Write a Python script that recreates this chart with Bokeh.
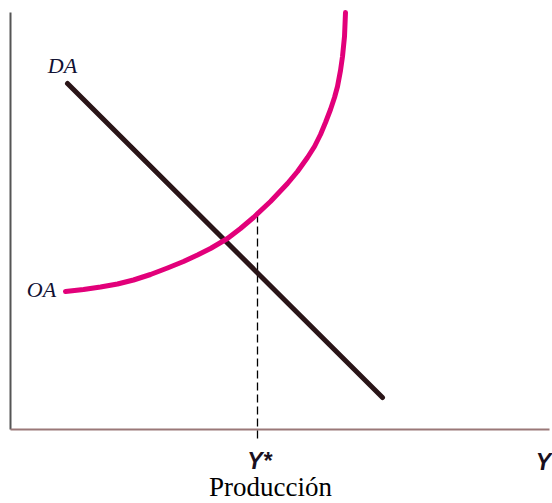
from bokeh.plotting import figure
from bokeh.models import Range1d
from bokeh.core.properties import value
from bokeh.embed import file_html
from bokeh.resources import INLINE

# Aggregate demand (DA) line: endpoints (output, price)
da_x = [11.4, 74.4]
da_y = [86.5, 8.0]

# Aggregate supply (OA) curve
oa_x = [11.0, 14.6, 18.0, 21.4, 24.6, 28.0, 31.4, 34.6, 37.4, 40.0, 43.4, 46.0, 48.6,
        52.0, 55.4, 57.4, 59.4, 60.8, 62.0, 63.0, 64.0, 64.8, 65.4, 66.0, 66.4, 66.8, 67.0]
oa_y = [34.5, 35.0, 35.625, 36.375, 37.375, 38.75, 40.375, 42.0, 43.625, 45.25, 47.75, 50.25, 53.0,
        57.0, 61.5, 64.5, 68.0, 70.75, 73.75, 76.75, 80.0, 83.0, 85.75, 89.75, 93.25, 98.25, 104.25]

# Potential output Y*
y_star = 49.4
y_star_top = 54.0
y_star_bottom = -2.25

# Axis extents
x_axis_end = 107.8
y_axis_end = 104.25

p = figure(width=552, height=503, output_backend="svg", toolbar_location=None,
           x_range=Range1d(-2.0, 108.4), y_range=Range1d(-18.5, 107.25),
           min_border=0, outline_line_color=None)
p.axis.visible = False
p.grid.visible = False
p.background_fill_color = "white"
p.border_fill_color = "white"

# axes lines
p.line([0, 0], [0, y_axis_end], line_color="#555555", line_width=2)
p.line([0, x_axis_end], [0, 0], line_color="#9a7878", line_width=2)

# dashed Y* line
p.line([y_star, y_star], [y_star_bottom, y_star_top], line_color="black",
       line_width=1.3, line_dash="8 4")

# DA
p.line(da_x, da_y, line_color="#2a1518", line_width=5, line_cap="round")

# OA
p.line(oa_x, oa_y, line_color="#e2007a", line_width=5, line_cap="round", line_join="round")

serif = value("Liberation Serif")
sans = value("Liberation Sans")

p.text([10.4], [91.0], text=["DA"], text_font=serif, text_font_style="italic",
       text_font_size="22px", text_align="center", text_baseline="middle", text_color="#111133")
p.text([6.2], [35.0], text=["OA"], text_font=serif, text_font_style="italic",
       text_font_size="22px", text_align="center", text_baseline="middle", text_color="#111133")
p.text([49.8], [-7.75], text=["Y*"], text_font=sans, text_font_style="bold italic",
       text_font_size="23px", text_align="center", text_baseline="middle", text_color="#1a1020")
p.text([106.6], [-8.0], text=["Y"], text_font=sans, text_font_style="bold italic",
       text_font_size="23px", text_align="center", text_baseline="middle", text_color="#1a1020")
p.text([52.0], [-14.4], text=["Producción"], text_font=serif,
       text_font_size="27px", text_align="center", text_baseline="middle", text_color="black")

open("out.html", "w").write(file_html(p, INLINE))
